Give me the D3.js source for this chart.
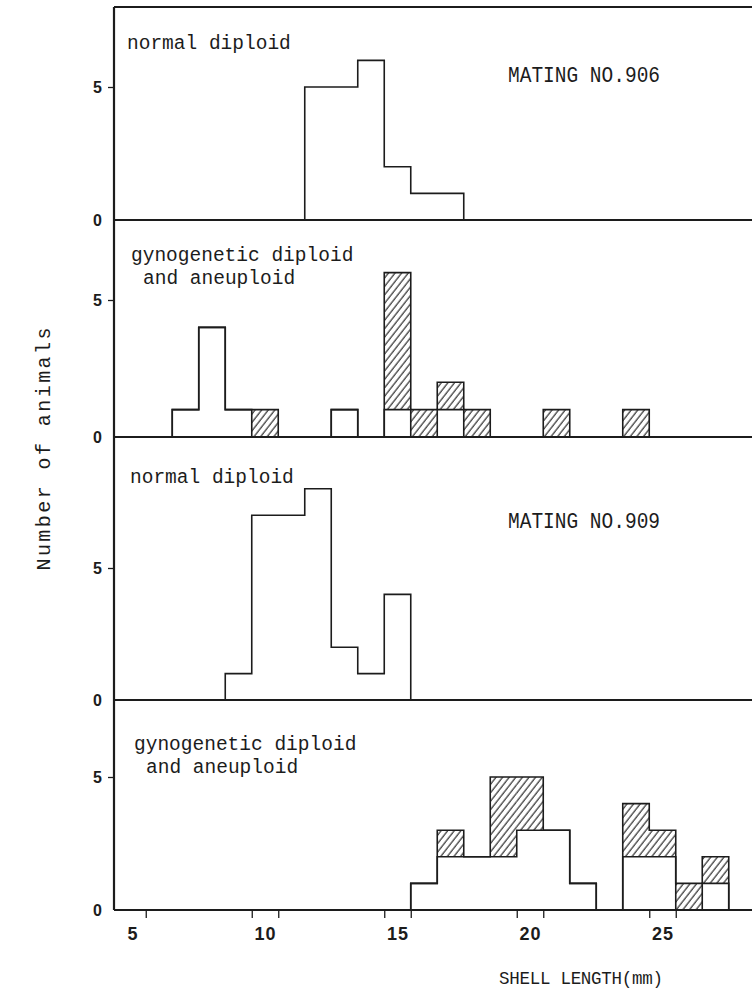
<!DOCTYPE html>
<html>
<head>
<meta charset="utf-8">
<script src="https://cdn.jsdelivr.net/npm/d3@7/dist/d3.min.js"></script>
<style>
  body { margin: 0; background: #fff; }
  svg { display: block; }
  .lbl { font-family: "Liberation Mono", "DejaVu Sans Mono", monospace; fill: #1c1c1c; }
  .tick text { font-family: "Liberation Sans", Arial, sans-serif; font-weight: bold; fill: #1c1c1c; }
</style>
</head>
<body>
<div id="chart"></div>
<script>
// shell length classes (mm) and number of animals
// mating no.906
var len906Normal = [12, 13, 14, 15, 16, 17],
    n906Normal   = [5, 5, 6, 2, 1, 1];
var len906Gyno   = [7, 8, 9, 13, 15, 17],          // open bars
    n906Gyno     = [1, 4, 1, 1, 1, 1];
var len906Aneu   = [10, 15, 16, 17, 18, 21, 24],   // hatched, stacked on open
    n906Aneu     = [1, 5, 1, 1, 1, 1, 1];
// mating no.909
var len909Normal = [9, 10, 11, 12, 13, 14, 15],
    n909Normal   = [1, 7, 7, 8, 2, 1, 4];
var len909Gyno   = [16, 17, 18, 19, 20, 21, 22, 24, 25, 27],
    n909Gyno     = [1, 2, 2, 2, 3, 3, 1, 2, 2, 1];
var len909Aneu   = [17, 19, 20, 24, 25, 26, 27],
    n909Aneu     = [1, 3, 2, 2, 1, 1, 1];

var xLabels = [5, 10, 15, 20, 25];
var xTickMarks = [5.5, 9.5, 10.5, 14.5, 15.5, 19.5, 20.5, 24.5, 25.5];
var yTicks = [0, 5];

var width = 752, height = 992;
var axisX = 114, frameTop = 7;
var ink = "#1c1c1c";

var svg = d3.select("#chart").append("svg")
  .attr("width", width)
  .attr("height", height);

// diagonal hatching
svg.append("defs").append("pattern")
  .attr("id", "hatch")
  .attr("patternUnits", "userSpaceOnUse")
  .attr("width", 5.2)
  .attr("height", 5.2)
  .attr("patternTransform", "rotate(38)")
  .append("line")
  .attr("x1", 1).attr("y1", 0)
  .attr("x2", 1).attr("y2", 5.2)
  .attr("stroke", ink)
  .attr("stroke-width", 1.1);

var x = d3.scaleLinear().domain([5, 25]).range([132.5, 662.5]);

// label lines: [text, x offset]
var panels = [
  { base: 220, five: 87, open: [len906Normal, n906Normal], hatched: null,
    label: { x: 127, y: 49, lines: [["normal diploid", 0]] },
    mating: { t: "MATING NO.906", x: 508, y: 82 } },
  { base: 437, five: 300, open: [len906Gyno, n906Gyno], hatched: [len906Aneu, n906Aneu],
    label: { x: 131, y: 261, lines: [["gynogenetic diploid", 0], ["and aneuploid", 12]] } },
  { base: 700, five: 568, open: [len909Normal, n909Normal], hatched: null,
    label: { x: 130, y: 483, lines: [["normal diploid", 0]] },
    mating: { t: "MATING NO.909", x: 508, y: 528 } },
  { base: 910, five: 777, open: [len909Gyno, n909Gyno], hatched: [len909Aneu, n909Aneu],
    label: { x: 134, y: 750, lines: [["gynogenetic diploid", 0], ["and aneuploid", 12]] } }
];

// stepped outline over consecutive 1 mm classes, zero where a class is empty
function stepPoints(lookup) {
  var keys = Object.keys(lookup).map(Number);
  var lo = d3.min(keys), hi = d3.max(keys);
  var pts = [[lo - 0.5, 0]];
  for (var m = lo; m <= hi; m++) pts.push([m - 0.5, lookup[m] || 0]);
  pts.push([hi + 0.5, 0]);
  return pts;
}

panels.forEach(function(p) {
  var y = d3.scaleLinear().domain([0, 5]).range([p.base, p.five]);
  var g = svg.append("g");

  var step = d3.line()
    .x(function(d) { return x(d[0]); })
    .y(function(d) { return y(d[1]); })
    .curve(d3.curveStepAfter);

  var open = {};
  p.open[0].forEach(function(m, i) { open[m] = p.open[1][i]; });

  // hatched bars sit on top of the open ones
  if (p.hatched) {
    var total = Object.assign({}, open);
    var hb = p.hatched[0].map(function(m, i) {
      var under = open[m] || 0;
      total[m] = under + p.hatched[1][i];
      return { m: m, y0: under, y1: total[m] };
    });
    g.selectAll("rect.hatched")
      .data(hb)
      .enter().append("rect")
      .attr("class", "hatched")
      .attr("x", function(d) { return x(d.m - 0.5); })
      .attr("width", function(d) { return x(d.m + 0.5) - x(d.m - 0.5); })
      .attr("y", function(d) { return y(d.y1); })
      .attr("height", function(d) { return y(d.y0) - y(d.y1); })
      .attr("fill", "url(#hatch)");

    g.append("path")
      .datum(stepPoints(total))
      .attr("d", step)
      .attr("fill", "none")
      .attr("stroke", ink)
      .attr("stroke-width", 1.6);
  }

  g.append("path")
    .datum(stepPoints(open))
    .attr("d", step)
    .attr("fill", "none")
    .attr("stroke", ink)
    .attr("stroke-width", 1.6);

  // baseline of the panel
  g.append("line")
    .attr("x1", axisX).attr("x2", width)
    .attr("y1", y(0)).attr("y2", y(0))
    .attr("stroke", ink)
    .attr("stroke-width", 2.2);

  // y ticks
  var ya = g.append("g")
    .attr("transform", "translate(" + axisX + ",0)")
    .call(d3.axisLeft(y).tickValues(yTicks).tickSize(6).tickPadding(6).tickFormat(d3.format("d")));
  ya.select(".domain").remove();
  ya.selectAll(".tick line").attr("stroke", ink).attr("stroke-width", 1.3)
    .attr("display", function(d) { return d === 0 ? "none" : null; });
  ya.selectAll(".tick text").style("font-size", "16px");

  // panel label, one text with a tspan per line
  var lt = g.append("text")
    .attr("class", "lbl")
    .attr("transform", "translate(" + p.label.x + "," + p.label.y + ")")
    .style("font-size", "19.5px");
  lt.selectAll("tspan")
    .data(p.label.lines)
    .enter().append("tspan")
    .attr("x", function(d) { return d[1]; })
    .attr("y", function(d, i) { return i * 22.5; })
    .text(function(d) { return d[0]; });

  if (p.mating) {
    g.append("text")
      .attr("class", "lbl")
      .attr("transform", "translate(" + p.mating.x + "," + p.mating.y + ") scale(1,1.15)")
      .style("font-size", "19.5px")
      .text(p.mating.t);
  }
});

// frame: top line and left axis
svg.append("line")
  .attr("x1", axisX).attr("x2", width)
  .attr("y1", frameTop).attr("y2", frameTop)
  .attr("stroke", ink).attr("stroke-width", 2.2);
svg.append("line")
  .attr("x1", axisX).attr("x2", axisX)
  .attr("y1", frameTop).attr("y2", 910)
  .attr("stroke", ink).attr("stroke-width", 2.2);

// x axis: labels and the paired tick marks
var xl = svg.append("g")
  .attr("transform", "translate(0,910)")
  .call(d3.axisBottom(x).tickValues(xLabels).tickSize(0).tickPadding(17));
xl.select(".domain").remove();
xl.selectAll(".tick text").style("font-size", "18px").style("letter-spacing", "1px");

var xt = svg.append("g")
  .attr("transform", "translate(0,910)")
  .call(d3.axisBottom(x).tickValues(xTickMarks).tickSize(8).tickFormat(""));
xt.select(".domain").remove();
xt.selectAll(".tick line").attr("stroke", ink).attr("stroke-width", 1.3);

// axis titles
svg.append("text")
  .attr("class", "lbl")
  .attr("transform", "translate(50,449) rotate(-90)")
  .attr("text-anchor", "middle")
  .attr("textLength", 243)
  .style("font-size", "20px")
  .text("Number of animals");

svg.append("text")
  .attr("class", "lbl")
  .attr("x", 499).attr("y", 984)
  .attr("textLength", 164)
  .style("font-size", "17.5px")
  .text("SHELL LENGTH(mm)");
</script>
</body>
</html>
